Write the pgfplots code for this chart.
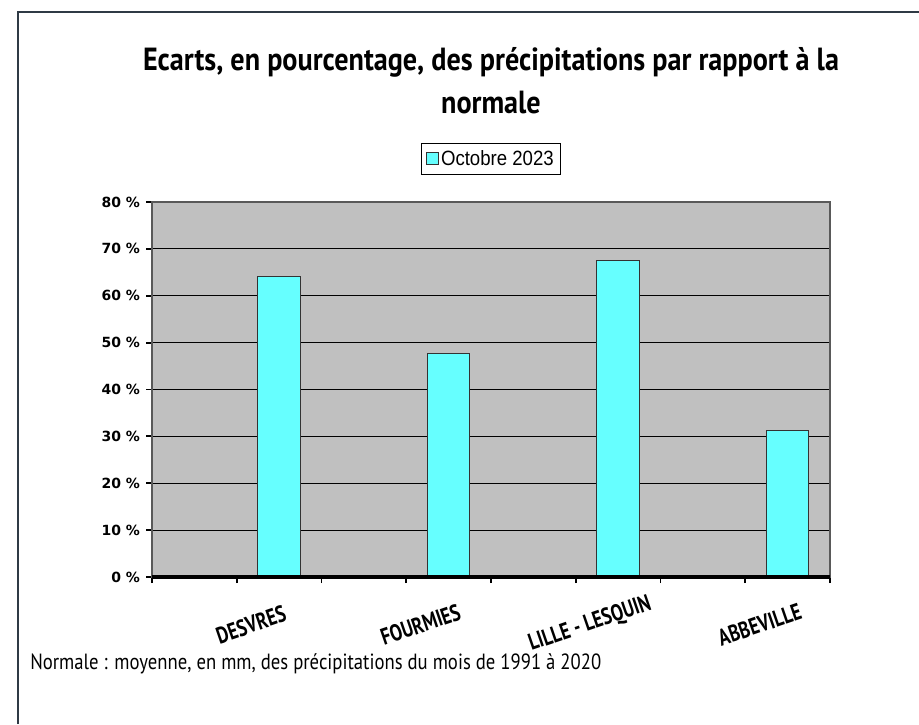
\documentclass[border=0pt]{standalone}
\usepackage{pgfplots}
\pgfplotsset{compat=1.18}
\usepackage{fontspec}
\setmainfont{DejaVu Sans}
\newfontfamily\titlefont[FakeStretch=0.88]{PT Sans}
\newfontfamily\catfont[FakeStretch=0.78]{PT Sans}
\newfontfamily\footfont[FakeStretch=0.85]{PT Sans}
\newfontfamily\legfont[FakeStretch=0.9]{Liberation Sans}
\definecolor{plotgray}{HTML}{C0C0C0}
\definecolor{barcyan}{HTML}{66FFFF}
\definecolor{framecol}{HTML}{2F3A45}
\begin{document}
\begin{tikzpicture}[x=0.75pt,y=0.75pt]
\useasboundingbox (0,0) rectangle (919,724);
\fill[white] (0,0) rectangle (919,724);
\draw[framecol, line width=1.5pt] (18,0) -- (18,712) -- (919,712);
\node[font=\titlefont\bfseries\fontsize{24}{26}\selectfont] at (491,662) {Ecarts, en pourcentage, des précipitations par rapport à la};
\node[font=\titlefont\bfseries\fontsize{24}{26}\selectfont] at (491,621) {normale};
\node[font=\footfont\fontsize{16.5}{18}\selectfont, anchor=west, inner sep=0pt] at (30,60) {Normale : moyenne, en mm, des précipitations du mois de 1991 à 2020};
\coordinate (A) at (152,147);
\begin{axis}[
  at={(A)}, anchor=south west,
  width=508.5pt, height=281.25pt, scale only axis,
  clip=false,
  xmin=-0.5, xmax=3.5, ymin=0, ymax=80,
  axis background/.style={fill=plotgray},
  xtick={0,1,2,3},
  xticklabels={DESVRES,FOURMIES,LILLE - LESQUIN,ABBEVILLE},
  minor xtick={-0.5,0.5,1.5,2.5,3.5},
  ytick={0,10,...,80},
  yticklabels={0 \%,10 \%,20 \%,30 \%,40 \%,50 \%,60 \%,70 \%,80 \%},
  xtick pos=bottom, ytick pos=left,
  tick align=outside,
  major tick length=4.5pt, minor tick length=4.5pt,
  every tick/.style={black, line width=1.4pt},
  ymajorgrids,
  grid style={black, line width=0.9pt},
  axis line style={gray!70!black, line width=0.8pt},
  yticklabel style={font=\bfseries\fontsize{10.5}{12}\selectfont, xshift=-1pt},
  xticklabel style={font=\catfont\bfseries\fontsize{17.5}{20}\selectfont, rotate=19, anchor=center, yshift=-33pt},
  legend style={at={(0.5,1.115)}, anchor=center, draw=black, line width=0.6pt, font=\legfont\fontsize{15.5}{18}\selectfont, inner sep=3pt},
  legend image code/.code={\draw[#1, line width=0.6pt] (0pt,-4.5pt) rectangle (9pt,4.5pt);},
]
\addplot[ybar, bar width=0.25, bar shift=0pt, fill=barcyan, draw=black!80, line width=0.8pt]
  coordinates {(0.25,64.1) (1.25,47.7) (2.25,67.5) (3.25,31.2)};
\addlegendentry{Octobre 2023}
\draw[black, line width=2.6pt] (axis cs:-0.5,0) -- (axis cs:3.5,0);
\end{axis}
\end{tikzpicture}
\end{document}
